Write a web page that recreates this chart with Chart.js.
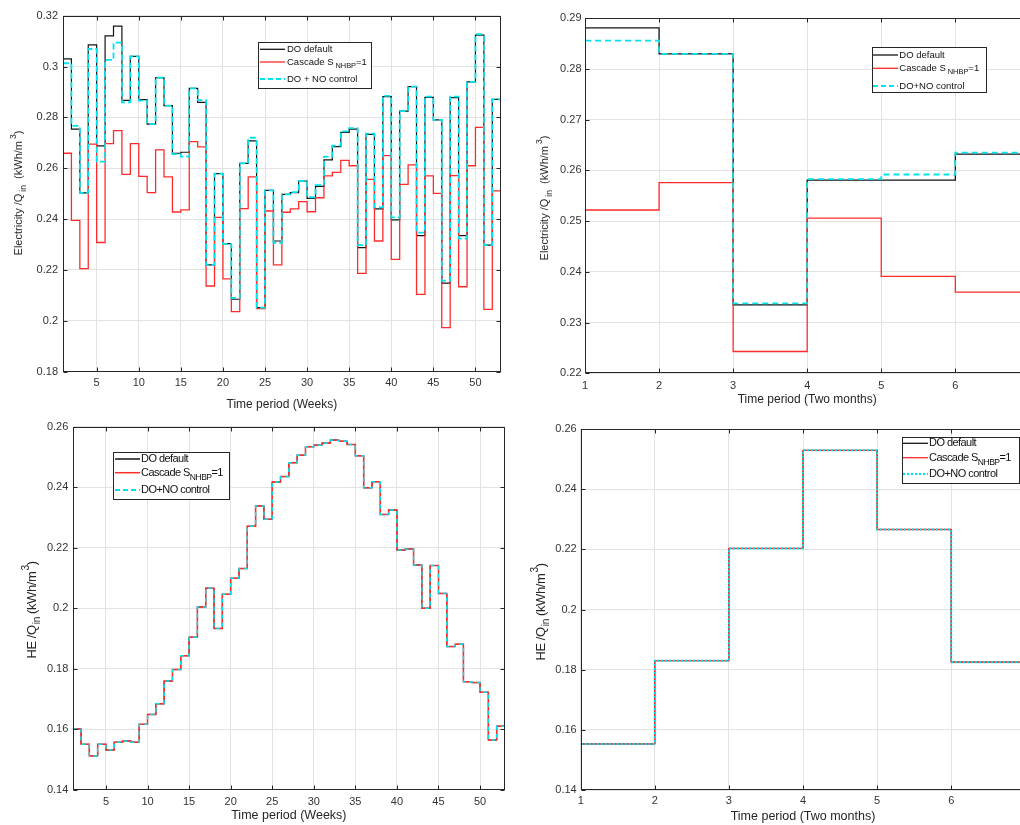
<!DOCTYPE html>
<html>
<head>
<meta charset="utf-8">
<title>Electricity and HE per inflow</title>
<script src="https://cdn.jsdelivr.net/npm/chart.js@4.4.1/dist/chart.umd.min.js"></script>
<style>
  html, body { margin:0; padding:0; width:1020px; height:825px; overflow:hidden; background:#ffffff; }
  canvas { position:absolute; display:block; }
</style>
</head>
<body>
<canvas id="elecWeekly" width="512" height="414" style="left:0px;top:0px;width:512px;height:414px"></canvas>
<canvas id="elecTwoMonth" width="525" height="414" style="left:515px;top:0px;width:525px;height:414px"></canvas>
<canvas id="heWeekly" width="512" height="415" style="left:0px;top:410px;width:512px;height:415px"></canvas>
<canvas id="heTwoMonth" width="525" height="415" style="left:515px;top:410px;width:525px;height:415px"></canvas>
<script>
// ---------------- categories ----------------
const weeks = [1,2,3,4,5,6,7,8,9,10,11,12,13,14,15,16,17,18,19,20,21,22,23,24,25,26,
               27,28,29,30,31,32,33,34,35,36,37,38,39,40,41,42,43,44,45,46,47,48,49,50,51,52];
const twoMonthPeriods = [1,2,3,4,5,6];

// ---------------- series: electricity / Q_in, weekly ----------------
const elecWeeklyDoDefault = [0.3030,0.2754,0.2503,0.3085,0.2688,0.3121,0.3159,0.2867,0.3040,0.2870,
  0.2774,0.2956,0.2846,0.2659,0.2663,0.2914,0.2859,0.2220,0.2579,0.2304,0.2085,0.2619,0.2708,0.2052,
  0.2513,0.2314,0.2497,0.2504,0.2550,0.2482,0.2529,0.2633,0.2685,0.2741,0.2754,0.2288,0.2733,0.2440,
  0.2882,0.2397,0.2825,0.2921,0.2335,0.2879,0.2790,0.2148,0.2878,0.2335,0.2940,0.3124,0.2298,0.2871];
const elecWeeklyCascade = [0.2659,0.2395,0.2205,0.2695,0.2308,0.2697,0.2748,0.2576,0.2697,0.2568,
  0.2504,0.2672,0.2566,0.2428,0.2436,0.2705,0.2684,0.2137,0.2407,0.2165,0.2036,0.2441,0.2566,0.2048,
  0.2432,0.2220,0.2427,0.2440,0.2469,0.2429,0.2484,0.2570,0.2584,0.2631,0.2610,0.2187,0.2556,0.2314,
  0.2650,0.2242,0.2537,0.2613,0.2104,0.2570,0.2501,0.1973,0.2571,0.2134,0.2610,0.2761,0.2045,0.2511];
const elecWeeklyDoNo = [0.3013,0.2767,0.2503,0.3069,0.2626,0.3026,0.3094,0.2859,0.3040,0.2866,
  0.2774,0.2956,0.2846,0.2656,0.2646,0.2914,0.2868,0.2220,0.2579,0.2303,0.2090,0.2619,0.2720,0.2052,
  0.2513,0.2307,0.2497,0.2506,0.2550,0.2486,0.2534,0.2646,0.2689,0.2745,0.2758,0.2298,0.2736,0.2446,
  0.2885,0.2407,0.2825,0.2921,0.2347,0.2882,0.2790,0.2158,0.2882,0.2323,0.2940,0.3127,0.2298,0.2871];

// ---------------- series: electricity / Q_in, two-month ----------------
const elec2mDoDefault = [0.2881,0.2830,0.2335,0.2581,0.2581,0.2632];
const elec2mCascade   = [0.2522,0.2576,0.2243,0.2506,0.2391,0.2360];
const elec2mDoNo      = [0.2856,0.2830,0.2338,0.2583,0.2592,0.2635];

// ---------------- series: HE / Q_in (the three strategies coincide) ----------------
const heWeeklyDoDefault = [0.1601,0.1550,0.1512,0.1550,0.1531,0.1557,0.1561,0.1557,0.1616,0.1649,
  0.1684,0.1759,0.1797,0.1843,0.1904,0.2004,0.2066,0.1933,0.2046,0.2099,0.2131,0.2271,0.2338,0.2294,
  0.2417,0.2435,0.2481,0.2506,0.2534,0.2539,0.2546,0.2556,0.2552,0.2541,0.2504,0.2398,0.2418,0.2310,
  0.2325,0.2192,0.2196,0.2143,0.2000,0.2141,0.2049,0.1873,0.1881,0.1757,0.1754,0.1722,0.1564,0.1610];
const heWeeklyCascade = heWeeklyDoDefault.slice();
const heWeeklyDoNo = heWeeklyDoDefault.slice();
const he2mDoDefault = [0.1553,0.1830,0.2203,0.2529,0.2266,0.1825];
const he2mCascade = he2mDoDefault.slice();
const he2mDoNo = he2mDoDefault.slice();

// ---------------- ticks ----------------
const weekTickValues = [5,10,15,20,25,30,35,40,45,50];
const weekTickLabels = ['5','10','15','20','25','30','35','40','45','50'];
const periodTickValues = [1,2,3,4,5,6];
const periodTickLabels = ['1','2','3','4','5','6'];
const elecWeeklyYTickValues = [0.18,0.20,0.22,0.24,0.26,0.28,0.30,0.32];
const elecWeeklyYTickLabels = ['0.18','0.2','0.22','0.24','0.26','0.28','0.3','0.32'];
const elec2mYTickValues = [0.22,0.23,0.24,0.25,0.26,0.27,0.28,0.29];
const elec2mYTickLabels = ['0.22','0.23','0.24','0.25','0.26','0.27','0.28','0.29'];
const heYTickValues = [0.14,0.16,0.18,0.20,0.22,0.24,0.26];
const heYTickLabels = ['0.14','0.16','0.18','0.2','0.22','0.24','0.26'];

// ---------------- text ----------------
const seriesNames = ['DO default', 'Cascade S_NHBP=1', 'DO+NO control'];
const cascadeLegend = [{t:'Cascade S'}, {t:'NHBP', sub:true}, {t:'=1'}];

// ================= helpers =================
const SANS = "'Liberation Sans', Arial, sans-serif";

function stairs(xs, ys) {
  // MATLAB-like stairs: each value holds until the next category; last one extends one step
  const pts = xs.map((x, i) => ({x: x, y: ys[i]}));
  pts.push({x: xs[xs.length - 1] + 1, y: ys[ys.length - 1]});
  return pts;
}

function setSpacing(ctx, sp) {
  if ('letterSpacing' in ctx) ctx.letterSpacing = (sp || 0) + 'px';
}

function drawParts(ctx, parts, x, y, size, family, color, gap, sp) {
  let cx = x;
  setSpacing(ctx, sp);
  parts.forEach(p => {
    let fs = size, dy = 0;
    if (p.sub) { fs = size * 0.78; dy = size * 0.42; cx += gap; }
    if (p.sup) { fs = size * 0.78; dy = -size * 0.45; cx += gap; }
    ctx.font = fs + 'px ' + family;
    ctx.fillStyle = color;
    ctx.textBaseline = 'middle';
    ctx.textAlign = 'left';
    ctx.fillText(p.t, cx, y + dy);
    cx += ctx.measureText(p.t).width;
  });
  setSpacing(ctx, 0);
  return cx - x;
}
function measureParts(ctx, parts, size, family, gap, sp) {
  let w = 0;
  setSpacing(ctx, sp);
  parts.forEach(p => {
    const fs = (p.sub || p.sup) ? size * 0.78 : size;
    if (p.sub || p.sup) w += gap;
    ctx.font = fs + 'px ' + family;
    w += ctx.measureText(p.t).width;
  });
  setSpacing(ctx, 0);
  return w;
}

const boxPlugin = {
  id: 'matlabBox',
  afterDatasetsDraw(chart) {
    const {ctx, chartArea: a, scales} = chart;
    ctx.save();
    ctx.strokeStyle = '#262626';
    ctx.lineWidth = 1;
    ctx.setLineDash([]);
    const L = Math.round(a.left) + 0.5, T = Math.round(a.top) + 0.5;
    const R = Math.round(a.right) - 0.5, B = Math.round(a.bottom) - 0.5;
    ctx.strokeRect(L, T, R - L, B - T);
    const tl = 4;
    ctx.beginPath();
    scales.x.ticks.forEach(t => {
      const px = Math.round(scales.x.getPixelForValue(t.value)) + 0.5;
      ctx.moveTo(px, B); ctx.lineTo(px, B - tl);
      ctx.moveTo(px, T); ctx.lineTo(px, T + tl);
    });
    scales.y.ticks.forEach(t => {
      const py = Math.round(scales.y.getPixelForValue(t.value)) + 0.5;
      ctx.moveTo(L, py); ctx.lineTo(L + tl, py);
      ctx.moveTo(R, py); ctx.lineTo(R - tl, py);
    });
    ctx.stroke();
    ctx.restore();
  }
};

function makeYTitle(spec) {
  return {
    id: 'yTitle',
    afterDraw(chart) {
      const ctx = chart.ctx;
      ctx.save();
      ctx.translate(spec.cx, spec.cy);
      ctx.rotate(-Math.PI / 2);
      const w = measureParts(ctx, spec.parts, spec.size, spec.family, spec.gap, spec.sp);
      drawParts(ctx, spec.parts, -w / 2, 0, spec.size, spec.family, '#262626', spec.gap, spec.sp);
      ctx.restore();
    }
  };
}

function makeLegend(spec) {
  return {
    id: 'insetLegend',
    afterDraw(chart) {
      const ctx = chart.ctx;
      const [x0, y0, x1, y1] = spec.box;
      ctx.save();
      ctx.fillStyle = '#ffffff';
      ctx.fillRect(x0, y0, x1 - x0, y1 - y0);
      ctx.strokeStyle = '#262626';
      ctx.lineWidth = 1;
      ctx.strokeRect(Math.round(x0) + 0.5, Math.round(y0) + 0.5, Math.round(x1 - x0), Math.round(y1 - y0));
      spec.rows.forEach(row => {
        const ds = chart.data.datasets[row.ds];
        ctx.beginPath();
        ctx.setLineDash(row.dash || []);
        ctx.strokeStyle = ds.borderColor;
        ctx.lineWidth = row.lw;
        ctx.moveTo(spec.lineX[0], row.y);
        ctx.lineTo(spec.lineX[1], row.y);
        ctx.stroke();
        ctx.setLineDash([]);
        drawParts(ctx, row.parts, spec.textX, row.y, spec.size, spec.family, '#111', spec.gap, spec.sp);
      });
      ctx.restore();
    }
  };
}

function buildChart(id, cfg) {
  const canvas = document.getElementById(id);
  const W = canvas.width, H = canvas.height;
  const a = cfg.area;
  const titleLH = cfg.xTitle.size * 1.2;
  const xAxisH = cfg.xTitle.y - a.bottom + titleLH / 2;
  return new Chart(canvas, {
    type: 'line',
    data: { datasets: cfg.datasets },
    options: {
      responsive: false,
      animation: false,
      events: [],
      layout: { padding: { left: 0, top: a.top, right: W - a.right, bottom: Math.max(0, H - a.bottom - xAxisH) } },
      plugins: { legend: { display: false }, tooltip: { enabled: false } },
      elements: { point: { radius: 0 }, line: { tension: 0 } },
      scales: {
        x: {
          type: 'linear',
          min: cfg.xMin, max: cfg.xMax,
          afterBuildTicks: s => { s.ticks = cfg.xTicks.map(v => ({ value: v })); },
          afterFit: s => { s.height = xAxisH; },
          ticks: {
            callback: (v, i) => cfg.xLabels[i],
            font: { family: SANS, size: 11 }, color: '#333',
            padding: cfg.xTickPad, maxRotation: 0, autoSkip: false
          },
          grid: { color: '#e3e3e3', lineWidth: 1, drawTicks: false },
          border: { display: false },
          title: {
            display: true, text: cfg.xTitle.text, color: '#262626',
            font: { family: SANS, size: cfg.xTitle.size, lineHeight: 1.2 },
            padding: { top: 0, bottom: 0 }
          }
        },
        y: {
          type: 'linear',
          min: cfg.yMin, max: cfg.yMax,
          afterBuildTicks: s => { s.ticks = cfg.yTicks.map(v => ({ value: v })); },
          afterFit: s => { s.width = a.left; },
          ticks: {
            callback: (v, i) => cfg.yLabels[i],
            font: { family: SANS, size: 11 }, color: '#333',
            padding: cfg.yTickPad, autoSkip: false
          },
          grid: { color: '#e3e3e3', lineWidth: 1, drawTicks: false },
          border: { display: false }
        }
      }
    },
    plugins: [boxPlugin, makeYTitle(cfg.yTitle), makeLegend(cfg.legend)]
  });
}

function ds(label, xs, ys, color, width, dash, order) {
  return {
    label: label, data: stairs(xs, ys), borderColor: color, borderWidth: width,
    borderDash: dash, stepped: 'before', fill: false, pointRadius: 0, order: order
  };
}

const BLACK = '#141414', RED = '#ff2b2b', CYAN = '#00e2ee';
const elecYTitle = [{t:'Electricity /Q'}, {t:'in', sub:true}, {t:'  (kWh/m'}, {t:'3', sup:true}, {t:')'}];
const heYTitle = [{t:'HE /Q'}, {t:'in', sub:true}, {t:' (kWh/m'}, {t:'3', sup:true}, {t:')'}];

// ---------- top-left: electricity weekly ----------
buildChart('elecWeekly', {
  area: { left: 63, top: 15.7, right: 500.7, bottom: 371.7 },
  xMin: 1, xMax: 53, xTicks: weekTickValues, xLabels: weekTickLabels, xTickPad: 4.5,
  yMin: 0.18, yMax: 0.32, yTicks: elecWeeklyYTickValues, yLabels: elecWeeklyYTickLabels, yTickPad: 5,
  xTitle: { text: 'Time period (Weeks)', y: 405, size: 12 },
  yTitle: { cx: 19, cy: 193, size: 11, family: SANS, gap: 2, sp: 0, parts: elecYTitle },
  legend: {
    box: [258.3, 41.7, 371.7, 87.3], lineX: [260, 285], textX: 287, size: 9.5, family: SANS, gap: 2, sp: 0,
    rows: [
      { ds: 0, y: 49.3, lw: 1.3, parts: [{t: seriesNames[0]}] },
      { ds: 1, y: 62, lw: 1.3, parts: cascadeLegend },
      { ds: 2, y: 79, lw: 2, dash: [5, 3], parts: [{t: 'DO + NO control'}] }
    ]
  },
  datasets: [
    ds(seriesNames[0], weeks, elecWeeklyDoDefault, BLACK, 1.2, [], 3),
    ds(seriesNames[1], weeks, elecWeeklyCascade, RED, 1.3, [], 2),
    ds(seriesNames[2], weeks, elecWeeklyDoNo, CYAN, 1.8, [6, 3], 1)
  ]
});

// ---------- top-right: electricity two-month ----------
buildChart('elecTwoMonth', {
  area: { left: 70, top: 18.3, right: 514.4, bottom: 373.3 },
  xMin: 1, xMax: 7, xTicks: periodTickValues, xLabels: periodTickLabels, xTickPad: 5.8,
  yMin: 0.22, yMax: 0.29, yTicks: elec2mYTickValues, yLabels: elec2mYTickLabels, yTickPad: 3.5,
  xTitle: { text: 'Time period (Two months)', y: 400, size: 12 },
  yTitle: { cx: 30, cy: 198, size: 11, family: SANS, gap: 2, sp: 0, parts: elecYTitle },
  legend: {
    box: [356.7, 47.3, 470.7, 92.7], lineX: [358, 383], textX: 384.3, size: 9.5, family: SANS, gap: 2, sp: 0,
    rows: [
      { ds: 0, y: 55, lw: 1.3, parts: [{t: seriesNames[0]}] },
      { ds: 1, y: 68.3, lw: 1.3, parts: cascadeLegend },
      { ds: 2, y: 86, lw: 2, dash: [5, 3], parts: [{t: seriesNames[2]}] }
    ]
  },
  datasets: [
    ds(seriesNames[0], twoMonthPeriods, elec2mDoDefault, BLACK, 1.3, [], 3),
    ds(seriesNames[1], twoMonthPeriods, elec2mCascade, RED, 1.3, [], 2),
    ds(seriesNames[2], twoMonthPeriods, elec2mDoNo, CYAN, 1.8, [6, 4], 1)
  ]
});

// ---------- bottom-left: HE weekly ----------
buildChart('heWeekly', {
  area: { left: 72.7, top: 16.7, right: 505, bottom: 379.7 },
  xMin: 1, xMax: 53, xTicks: weekTickValues, xLabels: weekTickLabels, xTickPad: 5.4,
  yMin: 0.14, yMax: 0.26, yTicks: heYTickValues, yLabels: heYTickLabels, yTickPad: 4.4,
  xTitle: { text: 'Time period (Weeks)', y: 406, size: 12.5 },
  yTitle: { cx: 32, cy: 200, size: 13, family: SANS, gap: 1, sp: -0.4, parts: heYTitle },
  legend: {
    box: [112.7, 42.3, 229, 89.3], lineX: [115, 140], textX: 141, size: 11, family: SANS, gap: 0, sp: -0.55,
    rows: [
      { ds: 0, y: 49, lw: 1.5, parts: [{t: seriesNames[0]}] },
      { ds: 1, y: 62.7, lw: 1.5, parts: cascadeLegend },
      { ds: 2, y: 80, lw: 2, dash: [5, 3], parts: [{t: seriesNames[2]}] }
    ]
  },
  datasets: [
    ds(seriesNames[0], weeks, heWeeklyDoDefault, BLACK, 1, [], 3),
    ds(seriesNames[1], weeks, heWeeklyCascade, RED, 1.5, [], 2),
    ds(seriesNames[2], weeks, heWeeklyDoNo, CYAN, 1.5, [4, 4], 1)
  ]
});

// ---------- bottom-right: HE two-month ----------
buildChart('heTwoMonth', {
  area: { left: 65.7, top: 19, right: 510.3, bottom: 380 },
  xMin: 1, xMax: 7, xTicks: periodTickValues, xLabels: periodTickLabels, xTickPad: 4,
  yMin: 0.14, yMax: 0.26, yTicks: heYTickValues, yLabels: heYTickLabels, yTickPad: 4,
  xTitle: { text: 'Time period (Two months)', y: 407, size: 12.5 },
  yTitle: { cx: 26, cy: 202, size: 13, family: SANS, gap: 1, sp: -0.4, parts: heYTitle },
  legend: {
    box: [386.7, 26.7, 503.3, 72.7], lineX: [388, 413], textX: 414, size: 11, family: SANS, gap: 0, sp: -0.55,
    rows: [
      { ds: 0, y: 33.3, lw: 1.3, parts: [{t: seriesNames[0]}] },
      { ds: 1, y: 47.7, lw: 1.3, parts: cascadeLegend },
      { ds: 2, y: 64, lw: 2.2, dash: [2, 2], parts: [{t: seriesNames[2]}] }
    ]
  },
  datasets: [
    ds(seriesNames[0], twoMonthPeriods, he2mDoDefault, BLACK, 1, [], 3),
    ds(seriesNames[1], twoMonthPeriods, he2mCascade, RED, 1.3, [], 2),
    ds(seriesNames[2], twoMonthPeriods, he2mDoNo, CYAN, 2, [2, 2], 1)
  ]
});
</script>
</body>
</html>
